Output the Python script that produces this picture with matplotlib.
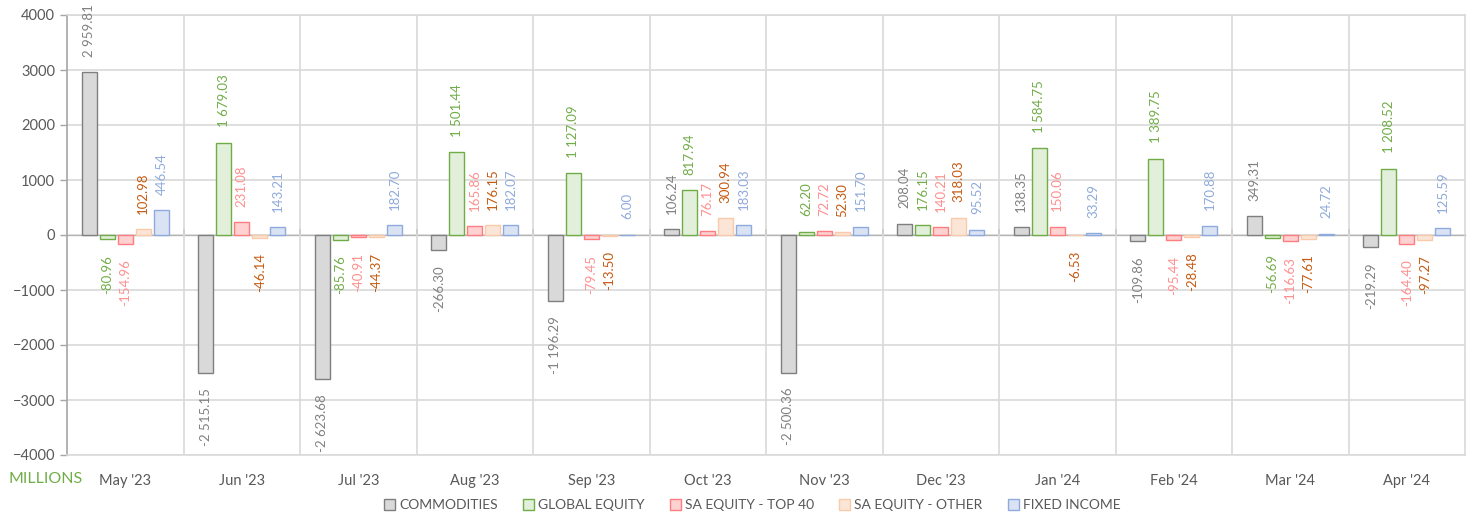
import matplotlib.pyplot as plt
from matplotlib.patches import Patch
import numpy as np

plt.rcParams['font.family'] = ['Lato', 'DejaVu Sans']

months = ["May '23", "Jun '23", "Jul '23", "Aug '23", "Sep '23", "Oct '23",
          "Nov '23", "Dec '23", "Jan '24", "Feb '24", "Mar '24", "Apr '24"]

commodities = [2959.81, -2515.15, -2623.68, -266.30, -1196.29, 106.24,
               -2500.36, 208.04, 138.35, -109.86, 349.31, -219.29]
global_equity = [-80.96, 1679.03, -85.76, 1501.44, 1127.09, 817.94,
                 62.20, 176.15, 1584.75, 1389.75, -56.69, 1208.52]
sa_top40 = [-154.96, 231.08, -40.91, 165.86, -79.45, 76.17,
            72.72, 140.21, 150.06, -95.44, -116.63, -164.40]
sa_other = [102.98, -46.14, -44.37, 176.15, -13.50, 300.94,
            52.30, 318.03, -6.53, -28.48, -77.61, -97.27]
fixed_income = [446.54, 143.21, 182.70, 182.07, 6.00, 183.03,
                151.70, 95.52, 33.29, 170.88, 24.72, 125.59]

series = [
    ('COMMODITIES', commodities, '#d9d9d9', '#7f7f7f', '#808080'),
    ('GLOBAL EQUITY', global_equity, '#e2efda', '#70ad47', '#70ad47'),
    ('SA EQUITY - TOP 40', sa_top40, '#ffd1d1', '#ff7c80', '#ff8f8f'),
    ('SA EQUITY - OTHER', sa_other, '#fbe5d6', '#f8cbad', '#c55a11'),
    ('FIXED INCOME', fixed_income, '#dae3f3', '#8faadc', '#8faadc'),
]


def fmt(v):
    s = f'{abs(v):,.2f}'.replace(',', ' ')
    return ('-' if v < 0 else '') + s


fig = plt.figure(figsize=(14.72, 5.13), dpi=100)
ax = fig.add_axes([67 / 1472, 1 - 455 / 513, 1398 / 1472, 440 / 513])

x = np.arange(len(months))
stride = 0.155
width = 0.128
for k, (name, vals, fc, ec, tc) in enumerate(series):
    pos = x + (k - 2) * stride
    ax.bar(pos, vals, width, color=fc, edgecolor=ec, linewidth=1.0, zorder=3)
    for xi, v in zip(pos, vals):
        if v >= 0:
            ax.annotate(fmt(v), (xi, v), xytext=(0, 11), textcoords='offset points',
                        rotation=90, ha='center', va='bottom', fontsize=9.5, color=tc)
        else:
            ax.annotate(fmt(v), (xi, v), xytext=(0, -11), textcoords='offset points',
                        rotation=90, ha='center', va='top', fontsize=9.5, color=tc)

ax.set_xlim(-0.5, len(months) - 0.5)
ax.set_ylim(-4000, 4000)
ax.set_yticks(range(-4000, 4001, 1000))
ax.tick_params(axis='y', labelsize=10.5, labelcolor='#595959', color='#a6a6a6',
               length=5, width=1)
ax.set_xticks(x)
ax.set_xticklabels(months)
ax.tick_params(axis='x', labelsize=10.5, labelcolor='#595959', length=0, pad=14)
ax.set_xticks(x[:-1] + 0.5, minor=True)
ax.tick_params(axis='x', which='minor', length=0)

ax.grid(axis='y', color='#d9d9d9', linewidth=1.2, zorder=0)
ax.grid(axis='x', which='minor', color='#d9d9d9', linewidth=1.2, zorder=0)
for s in ['top', 'right', 'bottom']:
    ax.spines[s].set_color('#d9d9d9')
    ax.spines[s].set_linewidth(1.2)
ax.spines['left'].set_color('#a6a6a6')
ax.spines['left'].set_linewidth(1.2)

# zero line with small ticks between months
zero = ax.secondary_xaxis(0.5)
zero.spines['bottom'].set_color('#868686')
zero.spines['bottom'].set_linewidth(1.2)
zero.set_xticks(x[:-1] + 0.5)
zero.set_xticklabels([])
zero.tick_params(length=4, color='#868686', width=1.2, direction='out')

fig.text(8 / 1472, 1 - 479 / 513, 'MILLIONS', color='#70ad47', fontsize=11.5,
         va='center', ha='left')

handles = [Patch(facecolor=fc, edgecolor=ec, label=name) for name, _, fc, ec, _ in series]
fig.legend(handles=handles, loc='center', bbox_to_anchor=(0.511, 1 - 505 / 513), ncol=5,
           frameon=False, fontsize=10, labelcolor='#595959', handlelength=0.8,
           handleheight=0.8, handletextpad=0.3, columnspacing=1.8)

fig.savefig('out.png', dpi=100)
